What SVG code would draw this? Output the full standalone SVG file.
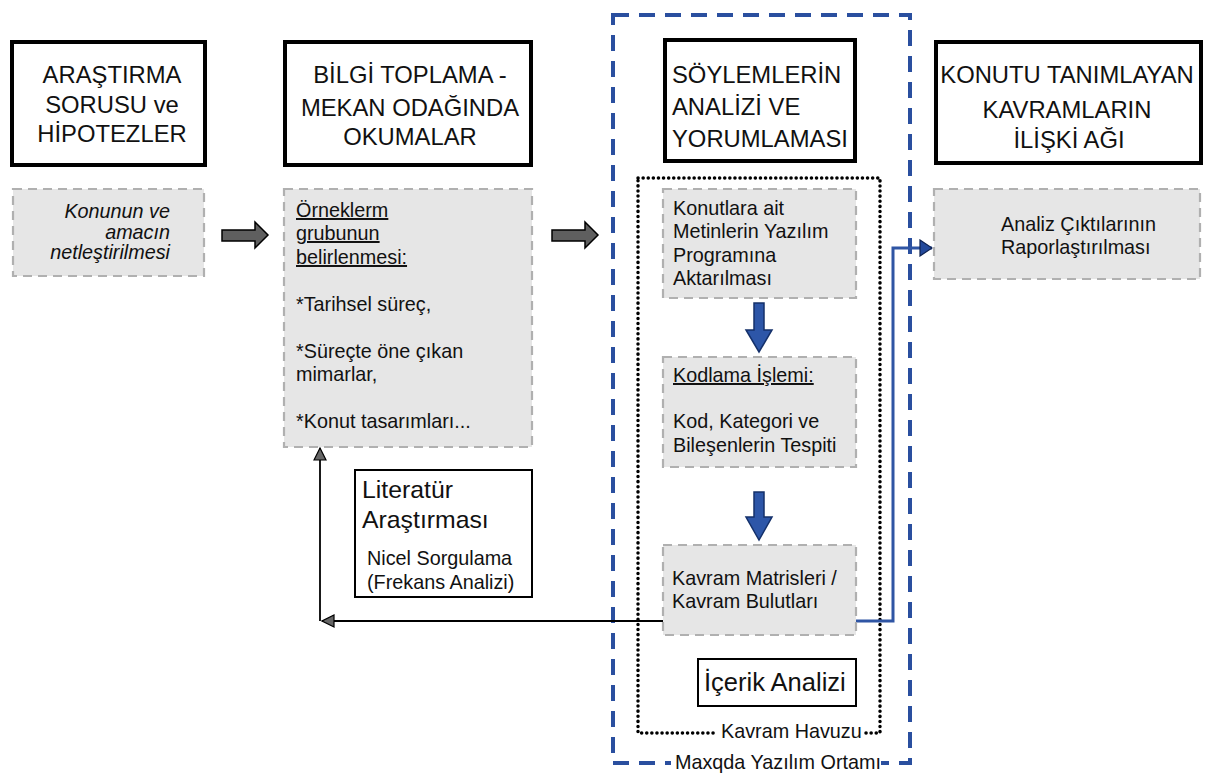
<svg xmlns="http://www.w3.org/2000/svg" width="1205" height="773" viewBox="0 0 1205 773">
<defs>
<style>
.hdr{fill:#fff;stroke:#000;stroke-width:4}
.gbox{fill:#e6e6e6;stroke:#b0b0b0;stroke-width:2.2;stroke-dasharray:9 6}
.wbox{fill:#fff;stroke:#000;stroke-width:2}
.ht{font-family:"Liberation Sans",Arial,sans-serif;font-size:23.8px;fill:#111}
.gt{font-family:"Liberation Sans",Arial,sans-serif;font-size:19.8px;fill:#111}
.big{font-size:24.8px}
.u{text-decoration:underline}
.garrow{fill:#5f5f5f;stroke:#000;stroke-width:1.5}
.barrow{fill:#2d56a8;stroke:#14306a;stroke-width:1.5}
</style>
<marker id="grayHead" markerWidth="14" markerHeight="14" refX="13" refY="7" orient="auto" markerUnits="userSpaceOnUse">
<path d="M1,1 L13,7 L1,13 Z" fill="#666" stroke="#000" stroke-width="1.2"/>
</marker>
<marker id="blueHead" markerWidth="14" markerHeight="18" refX="13" refY="9" orient="auto" markerUnits="userSpaceOnUse">
<path d="M1,1 L13,9 L1,17 Z" fill="#23499b" stroke="#0d2150" stroke-width="1.2"/>
</marker>
</defs>
<rect width="1205" height="773" fill="#fff"/>

<g id="maxqda-frame">
<rect x="613" y="15" width="297" height="748" fill="none" stroke="#2a4f9f" stroke-width="4" stroke-dasharray="16 10"/>
</g>
<g id="kavram-havuzu-frame">
<rect x="638" y="178" width="242" height="555" fill="none" stroke="#000" stroke-width="3.5" stroke-dasharray="0.1 5" stroke-linecap="round"/>
</g>

<g id="connectors">
<path d="M663,621 H322" fill="none" stroke="#000" stroke-width="1.8" marker-end="url(#grayHead)"/>
<path d="M320,621 V448" fill="none" stroke="#000" stroke-width="1.8" marker-end="url(#grayHead)"/>
<path d="M856,621 H893 V248 H932" fill="none" stroke="#2f55a4" stroke-width="3" marker-end="url(#blueHead)"/>
<path class="garrow" d="M222,230 H255 V222 L268,235 L255,248 V241 H222 Z"/>
<path class="garrow" d="M552,230 H585 V222 L598,235 L585,248 V241 H552 Z"/>
<path class="barrow" d="M754,303 H764 V330 H772 L759,352 L746,330 H754 Z"/>
<path class="barrow" d="M754,492 H764 V517 H772 L759,540 L746,517 H754 Z"/>
</g>

<g id="node-arastirma">
<rect class="hdr" x="12" y="42" width="193" height="123"/>
<text class="ht" text-anchor="middle" x="112" y="83">ARAŞTIRMA</text>
<text class="ht" text-anchor="middle" x="112" y="113">SORUSU ve</text>
<text class="ht" text-anchor="middle" x="112" y="142">HİPOTEZLER</text>
</g>
<g id="node-konunun">
<rect class="gbox" x="13" y="189" width="191" height="87"/>
<text class="gt" font-style="italic" text-anchor="end" x="170" y="218">Konunun ve</text>
<text class="gt" font-style="italic" text-anchor="end" x="170" y="239">amacın</text>
<text class="gt" font-style="italic" text-anchor="end" x="170" y="259">netleştirilmesi</text>
</g>

<g id="node-bilgi">
<rect class="hdr" x="285" y="42" width="246" height="123"/>
<text class="ht" text-anchor="middle" x="410" y="83">BİLGİ TOPLAMA -</text>
<text class="ht" text-anchor="middle" x="410" y="116">MEKAN ODAĞINDA</text>
<text class="ht" text-anchor="middle" x="410" y="145">OKUMALAR</text>
</g>
<g id="node-orneklem">
<rect class="gbox" x="284" y="189" width="248" height="258"/>
<text class="gt u" x="296" y="217">Örneklerm</text>
<text class="gt u" x="296" y="240">grubunun</text>
<text class="gt u" x="296" y="264">belirlenmesi:</text>
<text class="gt" x="296" y="311">*Tarihsel süreç,</text>
<text class="gt" x="296" y="358">*Süreçte öne çıkan</text>
<text class="gt" x="296" y="381">mimarlar,</text>
<text class="gt" x="296" y="428">*Konut tasarımları...</text>
</g>

<g id="node-literatur">
<rect class="wbox" x="355" y="470" width="177" height="127"/>
<text class="gt big" x="362" y="498">Literatür</text>
<text class="gt big" x="362" y="528">Araştırması</text>
<text class="gt" x="367" y="565">Nicel Sorgulama</text>
<text class="gt" x="367" y="589">(Frekans Analizi)</text>
</g>

<g id="node-soylemler">
<rect class="hdr" x="665" y="40" width="190" height="121"/>
<text class="ht" x="672" y="83">SÖYLEMLERİN</text>
<text class="ht" x="672" y="115">ANALİZİ VE</text>
<text class="ht" x="672" y="147">YORUMLAMASI</text>
</g>
<g id="node-aktarma">
<rect class="gbox" x="663" y="189" width="193" height="109"/>
<text class="gt" x="673" y="215">Konutlara ait</text>
<text class="gt" x="673" y="238">Metinlerin Yazılım</text>
<text class="gt" x="673" y="262">Programına</text>
<text class="gt" x="673" y="285">Aktarılması</text>
</g>
<g id="node-kodlama">
<rect class="gbox" x="663" y="357" width="193" height="110"/>
<text class="gt u" x="673" y="382">Kodlama İşlemi:</text>
<text class="gt" x="673" y="428">Kod, Kategori ve</text>
<text class="gt" x="673" y="452">Bileşenlerin Tespiti</text>
</g>
<g id="node-matris">
<rect class="gbox" x="663" y="545" width="193" height="90"/>
<text class="gt" x="672" y="585">Kavram Matrisleri /</text>
<text class="gt" x="672" y="608">Kavram Bulutları</text>
</g>
<g id="node-icerik">
<rect class="wbox" x="698" y="659" width="158" height="47"/>
<text class="gt" style="font-size:25.5px" x="704" y="691">İçerik Analizi</text>
</g>
<g id="label-havuz">
<rect x="716" y="724" width="148" height="20" fill="#fff"/>
<text class="gt" x="721" y="738">Kavram Havuzu</text>
</g>
<g id="label-maxqda">
<rect x="671" y="754" width="210" height="19" fill="#fff"/>
<text class="gt" x="675" y="769">Maxqda Yazılım Ortamı</text>
</g>

<g id="node-konutu">
<rect class="hdr" x="936" y="42" width="265" height="121"/>
<text class="ht" text-anchor="middle" x="1067" y="83">KONUTU TANIMLAYAN</text>
<text class="ht" text-anchor="middle" x="1067" y="118">KAVRAMLARIN</text>
<text class="ht" text-anchor="middle" x="1069" y="148">İLİŞKİ AĞI</text>
</g>
<g id="node-rapor">
<rect class="gbox" x="934" y="189" width="266" height="90"/>
<text class="gt" x="1001" y="231">Analiz Çıktılarının</text>
<text class="gt" x="1001" y="254">Raporlaştırılması</text>
</g>
</svg>
